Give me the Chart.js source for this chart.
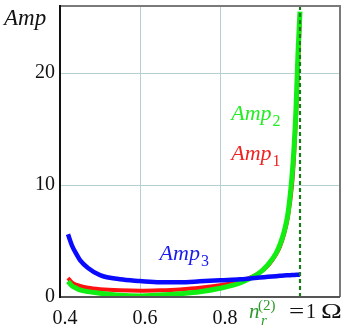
<!DOCTYPE html>
<html>
<head>
<meta charset="utf-8">
<script src="https://cdn.jsdelivr.net/npm/chart.js@4/dist/chart.umd.min.js"></script>
<style>
html,body{margin:0;padding:0;background:#fff;}
#wrap{width:346px;height:333px;position:relative;}
</style>
</head>
<body>
<div id="wrap"><canvas id="c" width="346" height="333"></canvas></div>
<script>
// ---- data ----
const xValues = [0.42, 0.43, 0.44, 0.45, 0.47, 0.5, 0.55, 0.6, 0.65, 0.7, 0.75, 0.8, 0.85, 0.88, 0.9, 0.92, 0.94, 0.95, 0.96, 0.97, 0.98, 0.985, 0.99, 0.995, 1.0];
const amp1 = [1.7, 1.3, 1.1, 0.98, 0.82, 0.7, 0.6, 0.56, 0.6, 0.68, 0.82, 1.05, 1.4, 1.8, 2.2, 2.8, 3.8, 4.5, 5.6, 7.2, 10.0, 12.5, 16.0, 20.5, 25.3];
const amp2 = [1.4, 1.0, 0.8, 0.63, 0.48, 0.33, 0.15, 0.1, 0.18, 0.3, 0.47, 0.78, 1.25, 1.75, 2.2, 2.9, 3.9, 4.7, 5.8, 7.5, 10.8, 13.3, 16.8, 21.8, 25.5];
const amp3 = [5.6, 4.6, 3.9, 3.3, 2.6, 1.96, 1.58, 1.43, 1.32, 1.32, 1.4, 1.5, 1.58, 1.68, 1.74, 1.8, 1.86, 1.89, 1.92, 1.94, 1.96, 1.97, 1.98, 1.99, 2.0];
const markerX = [1.0, 1.0];
const markerY = [0, 26];
const xTickLabels = {0.4: '0.4', 0.6: '0.6', 0.8: '0.8'};
const yTickLabels = {0: '0', 10: '10', 20: '20'};

const pts = (xs, ys) => xs.map((x, i) => ({x: x, y: ys[i]}));
const SERIF = "'Liberation Serif', 'DejaVu Serif', serif";

const annotate = {
  id: 'annotate',
  afterDatasetsDraw(chart) {
    const ctx = chart.ctx;
    const xs = chart.scales.x, ys = chart.scales.y;
    const a = chart.chartArea;
    ctx.save();
    // frame
    ctx.lineWidth = 2;
    ctx.strokeStyle = '#7a7a7a';
    ctx.beginPath();
    ctx.moveTo(a.left, a.top); ctx.lineTo(a.right, a.top); ctx.lineTo(a.right, a.bottom);
    ctx.stroke();
    ctx.strokeStyle = '#555';
    ctx.beginPath(); ctx.moveTo(a.left, a.bottom); ctx.lineTo(a.right, a.bottom); ctx.stroke();
    ctx.strokeStyle = '#111';
    ctx.beginPath(); ctx.moveTo(a.left, a.top - 1); ctx.lineTo(a.left, a.bottom + 1); ctx.stroke();

    ctx.textBaseline = 'alphabetic';
    ctx.textAlign = 'left';
    function label(text, sub, color, xv, yv) {
      const px = xs.getPixelForValue(xv), py = ys.getPixelForValue(yv);
      ctx.fillStyle = color;
      ctx.font = 'italic 22px ' + SERIF;
      ctx.fillText(text, px, py);
      const w = ctx.measureText(text).width;
      ctx.font = '16px ' + SERIF;
      ctx.fillText(sub, px + w + 1, py + 6);
    }
    label('Amp', '2', '#22ee22', 0.828, 15.8);
    label('Amp', '1', '#ee2222', 0.828, 12.2);
    label('Amp', '3', '#1a1aee', 0.649, 3.3);

    // axis title
    ctx.fillStyle = '#111';
    ctx.font = 'italic 23px ' + SERIF;
    ctx.fillText('Amp', 4, 25);

    // special x label at 1.0
    const bx = xs.getPixelForValue(1.0) - 51, by = a.bottom + 21;
    ctx.fillStyle = '#2e9a2e';
    ctx.font = 'italic 21px ' + SERIF;
    ctx.fillText('n', bx, by);
    ctx.font = 'italic 15px ' + SERIF;
    ctx.fillText('r', bx + 12, by + 7);
    ctx.font = '15px ' + SERIF;
    ctx.fillText('(2)', bx + 9, by - 8);
    ctx.fillStyle = '#111';
    ctx.font = '20px ' + SERIF;
    ctx.save();
    ctx.translate(bx + 40, by);
    ctx.scale(1.35, 1);
    ctx.fillText('=', 0, 0);
    ctx.restore();
    ctx.fillText('1', bx + 57, by);
    ctx.save();
    ctx.translate(bx + 72, by);
    ctx.scale(1.4, 1);
    ctx.fillText('\u03A9', 0, 0);
    ctx.restore();
    ctx.restore();
  }
};

new Chart(document.getElementById('c'), {
  type: 'line',
  data: {
    datasets: [
      {label: 'dash', data: pts(markerX, markerY), borderColor: '#1c7a1c', borderWidth: 2.2, borderDash: [4, 3], pointRadius: 0, order: 0},
      {label: 'Amp3', data: pts(xValues, amp3), borderColor: '#0a0aff', borderWidth: 4.5, pointRadius: 0, cubicInterpolationMode: 'monotone', order: 1},
      {label: 'Amp2', data: pts(xValues, amp2), borderColor: '#11ee11', borderWidth: 5, pointRadius: 0, cubicInterpolationMode: 'monotone', order: 2},
      {label: 'Amp1', data: pts(xValues, amp1), borderColor: '#ff1111', borderWidth: 4, pointRadius: 0, cubicInterpolationMode: 'monotone', order: 3}
    ]
  },
  options: {
    responsive: false,
    animation: false,
    events: [],
    layout: {padding: {left: 0, top: 6, right: 6, bottom: 0}},
    plugins: {legend: {display: false}, tooltip: {enabled: false}},
    scales: {
      x: {
        type: 'linear', min: 0.4, max: 1.1,
        afterFit(s) { s.height = 36; s.paddingLeft = 0; s.paddingRight = 0; s.paddingTop = 0; s.paddingBottom = 0; },
        border: {display: false},
        grid: {
          drawTicks: false,
          color: (c) => (c.tick && Math.abs(c.tick.value - 0.6) < 1e-6 || c.tick && Math.abs(c.tick.value - 0.8) < 1e-6) ? '#b4d0d4' : 'rgba(0,0,0,0)',
          lineWidth: 1
        },
        ticks: {
          stepSize: 0.2, includeBounds: false, padding: 10, labelOffset: 5,
          color: '#111', font: {family: SERIF, size: 20},
          maxRotation: 0, autoSkip: false,
          callback: (v) => xTickLabels[Math.round(v * 10) / 10] || ''
        }
      },
      y: {
        type: 'linear', min: 0, max: 26,
        afterFit(s) { s.width = 60; s.paddingTop = 0; s.paddingBottom = 0; s.paddingLeft = 0; s.paddingRight = 0; },
        border: {display: false},
        grid: {
          drawTicks: false,
          color: (c) => (c.tick && c.tick.value > 0) ? '#b4d0d4' : 'rgba(0,0,0,0)',
          lineWidth: 1
        },
        ticks: {
          stepSize: 10, includeBounds: false, padding: 5,
          color: '#111', font: {family: SERIF, size: 20},
          callback: (v) => yTickLabels[v] || ''
        }
      }
    }
  },
  plugins: [annotate]
});
</script>
</body>
</html>
